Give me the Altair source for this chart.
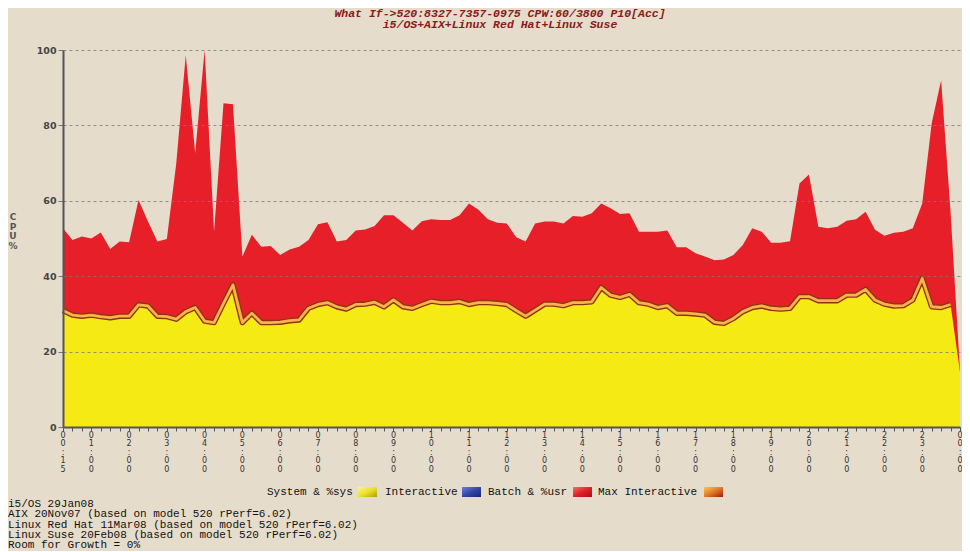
import altair as alt
import pandas as pd

# ---------------- data (15-minute samples, 00:15 .. 00:00) ----------------
total_cpu = [
    52.7, 49.6, 50.5, 50.0, 51.6, 47.2, 49.2, 49.0, 60.2, 54.5,
    49.2, 49.9, 70.0, 98.6, 72.6, 100.0, 51.8, 85.9, 85.6, 45.2,
    51.0, 47.8, 48.0, 45.6, 47.1, 47.8, 49.6, 53.8, 54.3, 49.2,
    49.6, 52.1, 52.4, 53.3, 56.2, 56.2, 54.2, 52.1, 54.6, 55.1,
    54.9, 54.9, 56.2, 59.3, 57.6, 55.1, 54.2, 54.0, 50.3, 49.2,
    54.0, 54.5, 54.5, 54.0, 56.0, 55.8, 56.7, 59.3, 58.0, 56.5,
    56.7, 51.8, 51.8, 51.8, 52.1, 47.7, 47.7, 46.1, 45.2, 44.2,
    44.4, 45.6, 48.3, 52.7, 51.8, 48.9, 48.9, 49.3, 64.6, 67.0,
    53.1, 52.7, 53.1, 54.7, 55.1, 57.1, 52.3, 50.7, 51.5, 51.8,
    52.7, 59.3, 80.5, 92.0, 57.0, 14.8,
]
system_sys = [
    30.9, 29.7, 29.4, 29.7, 29.3, 29.0, 29.4, 29.4, 32.4, 32.1,
    29.4, 29.3, 28.6, 30.6, 31.7, 28.1, 27.7, 32.8, 37.7, 27.7,
    30.2, 27.7, 27.7, 27.8, 28.2, 28.4, 31.5, 32.5, 33.0, 31.9,
    31.3, 32.5, 32.6, 33.1, 31.9, 33.7, 31.9, 31.5, 32.5, 33.4,
    33.0, 33.0, 33.3, 32.5, 33.0, 33.0, 32.8, 32.5, 30.9, 29.4,
    31.0, 32.6, 32.6, 32.2, 33.0, 33.0, 33.2, 37.0, 35.0, 34.4,
    35.2, 33.0, 32.6, 31.7, 32.2, 30.2, 30.2, 30.0, 29.7, 27.8,
    27.5, 28.8, 30.6, 31.7, 32.1, 31.5, 31.3, 31.5, 34.6, 34.6,
    33.5, 33.5, 33.5, 35.0, 35.0, 36.5, 33.7, 32.6, 32.1, 32.2,
    33.7, 39.4, 31.9, 31.7, 32.5, 14.6,
]
tick_index = [0, 3, 7, 11, 15, 19, 23, 27, 31, 35, 39, 43, 47, 51, 55,
              59, 63, 67, 71, 75, 79, 83, 87, 91, 95]
tick_labels = ["00:15", "01:00", "02:00", "03:00", "04:00", "05:00", "06:00",
               "07:00", "08:00", "09:00", "10:00", "11:00", "12:00", "13:00",
               "14:00", "15:00", "16:00", "17:00", "18:00", "19:00", "20:00",
               "21:00", "22:00", "23:00", "00:00"]
y_ticks = [0, 20, 40, 60, 80, 100]

title_lines = ["What If->520:8327-7357-0975 CPW:60/3800 P10[Acc]",
               "i5/OS+AIX+Linux Red Hat+Linux Suse"]
legend_labels = ["System & %sys", "Interactive", "Batch & %usr", "Max Interactive"]
legend_grads = [["#f7f29a", "#ece22a", "#a99c12"],
                ["#6e80d8", "#3447a8", "#1a2470"],
                ["#f27070", "#e02028", "#a81010"],
                ["#f8c850", "#e07a28", "#a01a10"]]
footer_lines = ["i5/OS 29Jan08",
                "AIX 20Nov07 (based on model 520 rPerf=6.02)",
                "Linux Red Hat 11Mar08 (based on model 520 rPerf=6.02)",
                "Linux Suse 20Feb08 (based on model 520 rPerf=6.02)",
                "Room for Growth = 0%"]

W, H = 897, 377
BG = "#e6dccb"

df = pd.DataFrame({"i": list(range(len(total_cpu))), "total": total_cpu, "sys": system_sys})
ticks_df = pd.DataFrame({"i": tick_index, "lab": ["\n".join(t) for t in tick_labels]})
one = pd.DataFrame({"a": [0]})

xscale = alt.Scale(domain=[0, 95], nice=False, zero=False)
xaxis = alt.Axis(values=list(range(96)), labels=False, title=None, grid=False,
                 tickSize=4, tickColor="#555", domainColor="#555", domainWidth=2, zindex=1)
yscale = alt.Scale(domain=[0, 100], nice=False)
yaxis = alt.Axis(values=y_ticks, title=None, grid=True, gridDash=[3, 3], gridColor="#7a7a7a",
                 gridOpacity=0.8, domainColor="#555", domainWidth=2, tickSize=5,
                 tickColor="#777", labelFont="DejaVu Sans", labelFontSize=9.5,
                 labelColor="#444", labelFontWeight="bold", labelPadding=2, zindex=1)


def X():
    return alt.X("i:Q", scale=xscale, axis=xaxis)


def Y(f):
    return alt.Y(f + ":Q", scale=yscale, axis=yaxis)


base = alt.Chart(df)
red = base.mark_area(color="#e61f28").encode(x=X(), y=Y("total"))
yellow = base.mark_area(color="#f5ea14").encode(x=X(), y=Y("sys"))
line_dark = base.transform_filter("datum.i <= 94").mark_line(
    color="#8e3510", strokeWidth=5.5, strokeJoin="round").encode(x=X(), y=Y("sys"))
line_or = base.transform_filter("datum.i <= 94").mark_line(
    color="#fbb24c", strokeWidth=2.8, strokeJoin="round").encode(x=X(), y=Y("sys"))

xlabels = alt.Chart(ticks_df).mark_text(
    lineBreak="\n", lineHeight=8.4, baseline="top", align="center",
    font="DejaVu Sans", fontSize=8, color="#333"
).encode(x=X(), y=alt.value(H + 5), text="lab:N")

layers = [red, yellow, line_dark, line_or, xlabels]

# title
for k, t in enumerate(title_lines):
    layers.append(alt.Chart(one).mark_text(
        font="Liberation Mono", fontSize=11.5, fontWeight="bold", fontStyle="italic",
        color="#8b1a1a", align="center", baseline="middle"
    ).encode(x=alt.value(437), y=alt.value(-36.5 + 11.5 * k), text=alt.value(t)))

# y title
layers.append(alt.Chart(one).mark_text(
    lineBreak="\n", lineHeight=9.7, font="DejaVu Sans", fontSize=9, fontWeight="bold",
    color="#555", align="center", baseline="top"
).encode(x=alt.value(-50), y=alt.value(163), text=alt.value("C\nP\nU\n%")))

# legend
label_x = [204, 322, 425, 535]
swatch_x = [295, 399, 510, 641]
for lab, lx, sx, g in zip(legend_labels, label_x, swatch_x, legend_grads):
    layers.append(alt.Chart(one).mark_text(
        font="Liberation Mono", fontSize=11, color="#111", align="left", baseline="middle"
    ).encode(x=alt.value(lx), y=alt.value(442), text=alt.value(lab)))
    grad = alt.LinearGradient(gradient="linear",
                              stops=[alt.GradientStop(offset=0, color=g[0]),
                                     alt.GradientStop(offset=0.5, color=g[1]),
                                     alt.GradientStop(offset=1, color=g[2])],
                              x1=0, y1=0, x2=1, y2=1)
    layers.append(alt.Chart(one).mark_rect(fill=grad).encode(
        x=alt.value(sx), x2=alt.value(sx + 19), y=alt.value(437), y2=alt.value(447)))

# footer
layers.append(alt.Chart(one).mark_text(
    lineBreak="\n", lineHeight=10.3, font="Liberation Mono", fontSize=11, color="#111",
    align="left", baseline="top"
).encode(x=alt.value(-55), y=alt.value(448), text=alt.value("\n".join(footer_lines))))

chart = alt.layer(*layers).properties(
    width=W, height=H, background=BG,
    padding={"left": 55, "top": 42, "right": 2, "bottom": 124},
    autosize=alt.AutoSizeParams(type="none"),
).configure_view(stroke=None)

chart.save("out.html", embed_options={"renderer": "svg", "actions": False})
